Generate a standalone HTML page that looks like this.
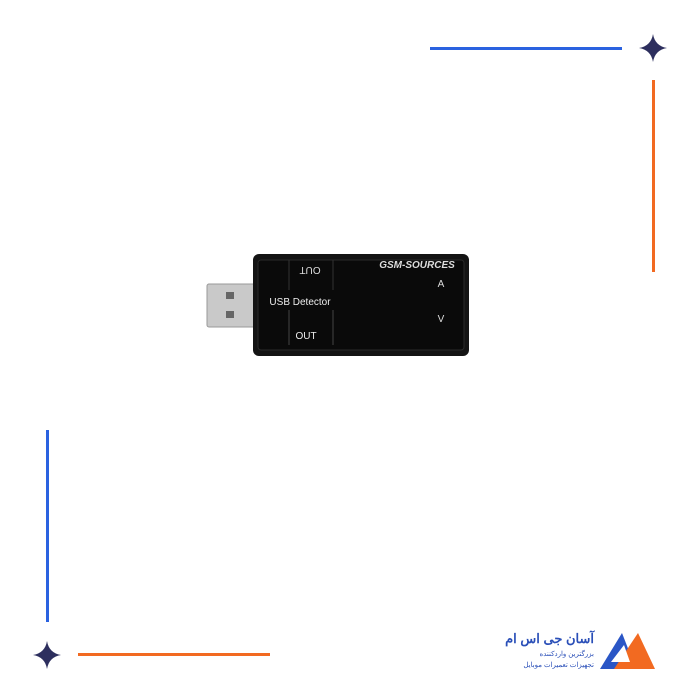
<!DOCTYPE html>
<html><head><meta charset="utf-8"><style>
body{margin:0;width:700px;height:700px;background:#fff;position:relative;overflow:hidden;font-family:"Liberation Sans","Noto Sans CJK SC",sans-serif}
.a{position:absolute}
</style></head><body>
<div class="a" style="left:430px;top:47px;width:192px;height:3px;background:#2a62e0"></div>
<div class="a" style="left:652px;top:80px;width:3px;height:192px;background:#f26a21"></div>
<div class="a" style="left:46px;top:430px;width:3px;height:192px;background:#2a62e0"></div>
<div class="a" style="left:78px;top:653px;width:192px;height:3px;background:#f26a21"></div>
<svg class="a" style="left:0;top:0" width="700" height="700">
<path d="M653 34 Q655 46 667 48 Q655 50 653 62 Q651 50 639 48 Q651 46 653 34Z" fill="#2d2f5e"/>
<path d="M47 641 Q49 653 61 655 Q49 657 47 669 Q45 657 33 655 Q45 653 47 641Z" fill="#2d2f5e"/>
<rect x="207" y="284" width="48" height="43" rx="2" fill="#c9c9c9" stroke="#999"/>
<rect x="226" y="292" width="8" height="7" fill="#666"/>
<rect x="226" y="311" width="8" height="7" fill="#666"/>
<rect x="253" y="254" width="216" height="102" rx="6" fill="#141414"/>
<rect x="258" y="260" width="206" height="90" rx="3" fill="#0a0a0a" stroke="#2a2a2a"/>
<line x1="289" y1="260" x2="289" y2="290" stroke="#333"/>
<line x1="333" y1="260" x2="333" y2="290" stroke="#333"/>
<line x1="289" y1="310" x2="289" y2="345" stroke="#444"/>
<line x1="333" y1="310" x2="333" y2="345" stroke="#444"/>
<text x="310" y="267" fill="#ddd" font-size="10" text-anchor="middle" transform="rotate(180 310 267)">OUT</text>
<text x="300" y="305" fill="#eee" font-size="10" text-anchor="middle">USB Detector</text>
<text x="306" y="339" fill="#eee" font-size="10" text-anchor="middle">OUT</text>
<text x="417" y="268" fill="#ddd" font-size="10" font-style="italic" font-weight="bold" text-anchor="middle">GSM-SOURCES</text>
<text x="441" y="287" fill="#ddd" font-size="10" text-anchor="middle">A</text>
<text x="441" y="322" fill="#ddd" font-size="10" text-anchor="middle">V</text>
<polygon points="600,669 622,633 636,669" fill="#2a56c6"/>
<polygon points="614,669 638,633 655,669" fill="#f26a21"/>
<polygon points="611,662 624,645 630,662" fill="#fff"/>
<text x="594" y="643" fill="#2a4fb8" font-size="13" font-weight="bold" text-anchor="end">آسان جی اس ام</text>
<text x="594" y="656" fill="#2a4fb8" font-size="7" text-anchor="end">بزرگترین واردکننده</text>
<text x="594" y="667" fill="#2a4fb8" font-size="7" text-anchor="end">تجهیزات تعمیرات موبایل</text>
</svg>
</body></html>
